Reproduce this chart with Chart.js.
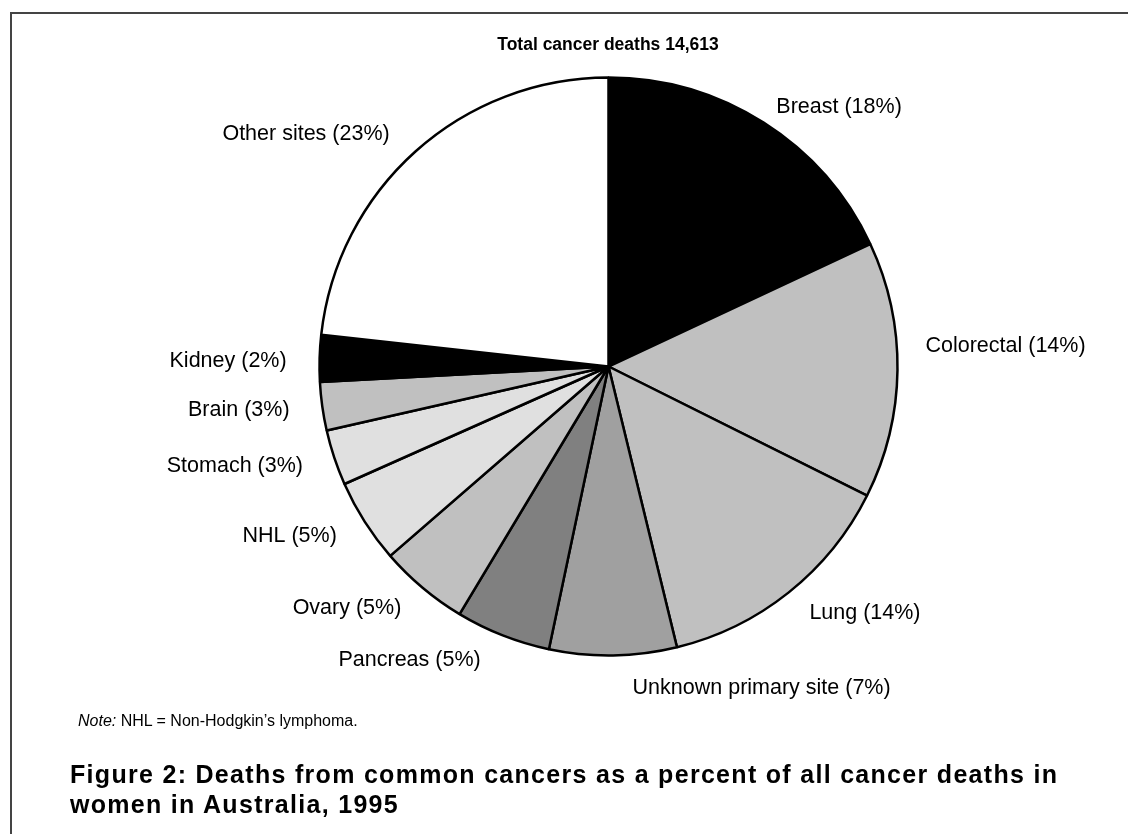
<!DOCTYPE html>
<html lang="en">
<head>
    <meta charset="UTF-8">
    <title>Deaths from common cancers, women, Australia 1995</title>
    <style>
        body { margin: 0; background: #fff; }
        .page { position: relative; width: 1128px; height: 834px; overflow: hidden; font-family: "Liberation Sans", Arial, sans-serif; color: #000; }
        .frame { position: absolute; left: 10px; top: 12px; width: 1300px; height: 1000px; border: 2px solid #444; }
        #pie { position: absolute; left: 0; top: 0; }
        .title { position: absolute; left: 0; width: 1216px; top: 34px; text-align: center; font-weight: bold; font-size: 17.5px; line-height: 20px; }
        .note { position: absolute; left: 78px; top: 712px; font-size: 16px; line-height: 18px; }
        .caption { position: absolute; left: 70px; top: 759px; font-weight: bold; font-size: 25px; line-height: 30px; letter-spacing: 1.3px; }
    </style>
</head>
<body>
<div class="page">
    <div class="frame"></div>
    <canvas id="pie" width="1128" height="834"></canvas>
    <div class="title">Total cancer deaths 14,613</div>
    <div class="note"><i>Note:</i> NHL = Non-Hodgkin’s lymphoma.</div>
    <div class="caption">Figure 2: Deaths from common cancers as a percent of all cancer deaths in<br>women in Australia, 1995</div>
</div>

<script src="https://cdn.jsdelivr.net/npm/chart.js@4.4.1/dist/chart.umd.min.js"></script>
<script>
    // cancer sites, clockwise from 12 o'clock
    var sites = ['Breast', 'Colorectal', 'Lung', 'Unknown primary site', 'Pancreas', 'Ovary',
                 'NHL', 'Stomach', 'Brain', 'Kidney', 'Other sites'];
    // share of deaths (%)
    var shares = [18.0, 14.3, 13.8, 7.1, 5.3, 5.0, 4.7, 3.1, 2.7, 2.6, 23.2];
    // percentages as printed on the labels
    var printed = [18, 14, 14, 7, 5, 5, 5, 3, 3, 2, 23];
    var fills = ['#000000', '#c0c0c0', '#c0c0c0', '#a0a0a0', '#808080', '#c0c0c0',
                 '#e0e0e0', '#e0e0e0', '#c0c0c0', '#000000', '#ffffff'];

    // small hand nudges for labels that were moved in the original
    var nudge = [[-5, 6], [-5, -24], [0, 0], [19, 7], [-10, 0], [0, 0],
                 [0, 0], [0, 0], [0, 0], [0, 4], [-4, 2]];

    // labels sit just outside each slice, left or right aligned by side
    var outsideLabels = {
        id: 'outsideLabels',
        afterDatasetsDraw: function(chart) {
            var ctx = chart.ctx;
            var arcs = chart.getDatasetMeta(0).data;
            ctx.save();
            ctx.font = '21.5px "Liberation Sans", Arial, sans-serif';
            ctx.fillStyle = '#000';
            ctx.textBaseline = 'middle';
            arcs.forEach(function(arc, i) {
                var p = arc.getProps(['x', 'y', 'startAngle', 'endAngle', 'outerRadius'], true);
                var mid = (p.startAngle + p.endAngle) / 2;
                var dx = Math.cos(mid), dy = Math.sin(mid);
                var tx = p.x + dx * (p.outerRadius + 33) + nudge[i][0];
                var ty = p.y + dy * (p.outerRadius + 26) + nudge[i][1];
                ctx.textAlign = dx >= 0 ? 'left' : 'right';
                ctx.fillText(sites[i] + ' (' + printed[i] + '%)', tx, ty);
            });
            ctx.restore();
        }
    };

    new Chart(document.getElementById('pie'), {
        type: 'pie',
        data: {
            labels: sites,
            datasets: [{
                data: shares,
                backgroundColor: fills,
                borderColor: '#000',
                borderWidth: 2.5
            }]
        },
        options: {
            responsive: false,
            animation: false,
            radius: 289,
            layout: { padding: { left: 89, right: 0, top: 0, bottom: 101 } },
            plugins: {
                legend: { display: false },
                tooltip: { enabled: false }
            }
        },
        plugins: [outsideLabels]
    });
</script>
</body>
</html>
